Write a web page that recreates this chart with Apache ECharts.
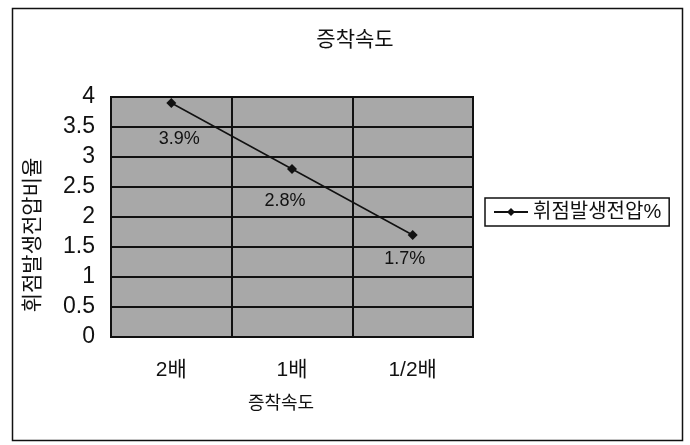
<!DOCTYPE html>
<html>
<head>
<meta charset="utf-8">
<script src="https://cdn.jsdelivr.net/npm/echarts@6/dist/echarts.min.js"></script>
<style>
  html, body { margin: 0; padding: 0; background: #fff; }
  #chart { width: 690px; height: 445px; }
</style>
</head>
<body>
<div id="chart"></div>
<script>
// 증착속도별 휘점발생전압 비율
const categories = ['2배', '1배', '1/2배'];
const ratioValues = [3.9, 2.8, 1.7];
const yTicks = { min: 0, max: 4, interval: 0.5 };
const seriesName = '휘점발생전압%';
const titleText = '증착속도';
const xAxisName = '증착속도';
const yAxisName = '휘점발생전압비율';

// label placement per point (text sits below each marker)
const labelOffsets = [[8, 36], [-7, 32], [-8, 24]];

const FONT = '"Liberation Sans", "Noto Sans CJK KR", sans-serif';

const chart = echarts.init(document.getElementById('chart'), null, { renderer: 'canvas' });

chart.setOption({
  backgroundColor: '#ffffff',
  animation: false,
  title: {
    text: titleText,
    left: 350, top: 25, textAlign: 'center',
    textStyle: { fontFamily: FONT, fontSize: 21, fontWeight: 'normal', color: '#111' }
  },
  graphic: [{
    type: 'rect',
    shape: { x: 12.5, y: 8.5, width: 670, height: 432 },
    style: { fill: 'none', stroke: '#111', lineWidth: 1.5 },
    z: -1
  }],
  legend: {
    left: 485, top: 198,
    orient: 'vertical',
    data: [seriesName],
    borderColor: '#111', borderWidth: 1.5,
    padding: [4, 8, 4, 8],
    itemWidth: 34, itemHeight: 10, itemGap: 4,
    textStyle: { fontFamily: FONT, fontSize: 20, color: '#111' }
  },
  grid: {
    left: 111, top: 97, width: 362, height: 240,
    show: true,
    backgroundColor: '#a8a8a8',
    borderColor: '#111', borderWidth: 2,
    outerBoundsMode: 'none'
  },
  xAxis: {
    type: 'category',
    data: categories,
    boundaryGap: true,
    name: xAxisName,
    nameLocation: 'middle',
    nameGap: 58,
    nameTextStyle: { fontFamily: FONT, fontSize: 18, color: '#111', padding: [0, 22, 0, 0] },
    axisLine: { show: true, lineStyle: { color: '#111', width: 2 } },
    axisTick: { show: false },
    axisLabel: { fontFamily: FONT, fontSize: 21, color: '#111', margin: 23 },
    splitLine: { show: true, interval: 0, lineStyle: { color: '#111', width: 2 } }
  },
  yAxis: {
    type: 'value',
    min: yTicks.min, max: yTicks.max, interval: yTicks.interval,
    name: yAxisName,
    nameLocation: 'middle',
    nameRotate: 90,
    nameGap: 67,
    nameTextStyle: { fontFamily: FONT, fontSize: 21, color: '#111', padding: [0, 36, 0, 0] },
    axisLine: { show: true, lineStyle: { color: '#111', width: 2 } },
    axisTick: { show: false },
    axisLabel: { fontFamily: FONT, fontSize: 23, color: '#111', margin: 16 },
    splitLine: { show: true, lineStyle: { color: '#111', width: 2 } }
  },
  series: [{
    name: seriesName,
    type: 'line',
    data: ratioValues.map((v, i) => ({
      value: v,
      label: { offset: labelOffsets[i] }
    })),
    symbol: 'diamond',
    symbolSize: 10,
    itemStyle: { color: '#111' },
    lineStyle: { color: '#111', width: 1.5 },
    label: {
      show: true,
      position: 'inside',
      formatter: p => p.value + '%',
      fontFamily: FONT, fontSize: 18, color: '#111'
    }
  }]
});
</script>
</body>
</html>
